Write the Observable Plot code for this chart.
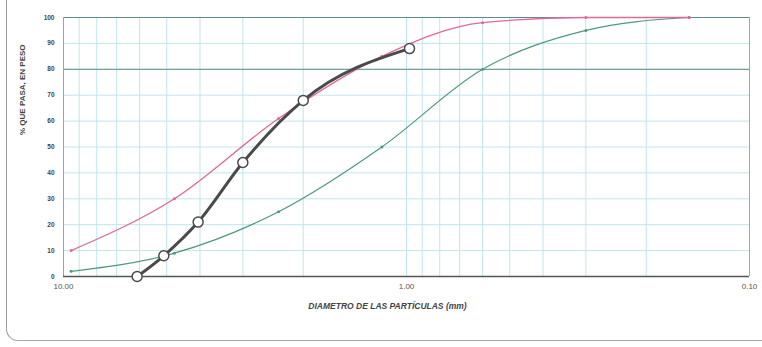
<!DOCTYPE html>
<html>
<head>
<meta charset="utf-8">
<script src="https://cdn.jsdelivr.net/npm/d3@7"></script>
<script src="https://cdn.jsdelivr.net/npm/@observablehq/plot@0.6"></script>
<style>
  html, body { margin: 0; padding: 0; background: #fff; }
  #wrap { position: relative; width: 762px; height: 347px; overflow: hidden; }
  #edge { position: absolute; left: 6px; top: -20px; width: 820px; height: 361px;
          border-left: 1.5px solid #9a9a9a; border-bottom: 1.5px solid #a8a8a8;
          border-bottom-left-radius: 12px; box-sizing: border-box; }
  svg { font-family: "Liberation Sans", Arial, sans-serif; }
</style>
</head>
<body>
<div id="wrap"><div id="edge"></div></div>
<script>
// Sieve openings (mm) used by the specification limits
const sieves = [9.5, 4.75, 2.36, 1.18, 0.6, 0.3, 0.15];
// Upper limit (pink) % passing
const upperLimit = [10, 30, 61, 85, 98, 100, 100];
// Lower limit (green) % passing
const lowerLimit = [2, 9, 25, 50, 80, 95, 100];
// Sample curve (dark, circles)
const sampleSizes = [6.1, 5.1, 4.05, 3.0, 2.0, 0.98];
const samplePass = [0, 8, 21, 44, 68, 88];
// Axis ticks and labels
const xTicks = [10, 1, 0.1];
const yTicks = [0, 10, 20, 30, 40, 50, 60, 70, 80, 90, 100];
const xLabel = "DIAMETRO DE LAS PARTÍCULAS (mm)";
const yLabel = "% QUE PASA, EN PESO";

const xGrid = [];
for (const p of [0.1, 1]) for (let k = 2; k <= 9; k++) xGrid.push(+(k * p).toFixed(2));
xGrid.push(1);

const upper = sieves.map((d, i) => ({d, v: upperLimit[i]}));
const lower = sieves.map((d, i) => ({d, v: lowerLimit[i]}));
const sample = sampleSizes.map((d, i) => ({d, v: samplePass[i]}));

const pink = "#e0689a";
const green = "#4f9a7e";
const dark = "#4a4a4a";

const chart = Plot.plot({
  width: 762,
  height: 347,
  marginLeft: 63,
  marginRight: 13,
  marginTop: 17,
  marginBottom: 71,
  style: {fontFamily: "Liberation Sans, Arial, sans-serif", background: "transparent"},
  x: {type: "log", domain: [10, 0.1]},
  y: {domain: [0, 100]},
  marks: [
    Plot.ruleX(xGrid, {stroke: "#bfe5ec", strokeWidth: 1}),
    Plot.ruleY(yTicks, {stroke: "#bfe5ec", strokeWidth: 1}),
    Plot.ruleY([80], {stroke: "#5e8c8c", strokeWidth: 1}),
    Plot.ruleY([100], {stroke: "#5e8c8c", strokeWidth: 1.2}),
    Plot.ruleX([0.1], {stroke: "#7fb4bf", strokeWidth: 1}),
    Plot.ruleX([10], {stroke: "#8aaab0", strokeWidth: 1}),
    Plot.ruleY([0], {stroke: "#555", strokeWidth: 1.3}),
    Plot.line(lower, {x: "d", y: "v", stroke: green, strokeWidth: 1.2, curve: "monotone-x"}),
    Plot.dot(lower, {x: "d", y: "v", r: 1.5, fill: green}),
    Plot.line(upper, {x: "d", y: "v", stroke: pink, strokeWidth: 1.3, curve: "monotone-x"}),
    Plot.dot(upper, {x: "d", y: "v", r: 1.5, fill: pink}),
    Plot.line(sample, {x: "d", y: "v", stroke: dark, strokeWidth: 3, curve: "monotone-x"}),
    Plot.dot(sample, {x: "d", y: "v", r: 5, fill: "#fff", stroke: dark, strokeWidth: 1.5}),
    Plot.axisY({ticks: yTicks, tickSize: 0, tickPadding: 9, fontSize: 6.5, fontWeight: "bold", fill: "#444", label: null}),
    Plot.axisX({ticks: xTicks, tickFormat: d3.format(".2f"), tickSize: 0, tickPadding: 7, fontSize: 8, fill: "#555", label: null}),
    Plot.text([yLabel], {frameAnchor: "left", rotate: -90, dx: -41, dy: -12, fontSize: 8, fontWeight: "bold", fill: "#444"}),
    Plot.text([xLabel], {frameAnchor: "bottom", dx: -19, dy: 32, fontSize: 8.5, fontWeight: "bold", fontStyle: "italic", fill: "#444"})
  ]
});
document.getElementById("wrap").prepend(chart);
</script>
</body>
</html>
